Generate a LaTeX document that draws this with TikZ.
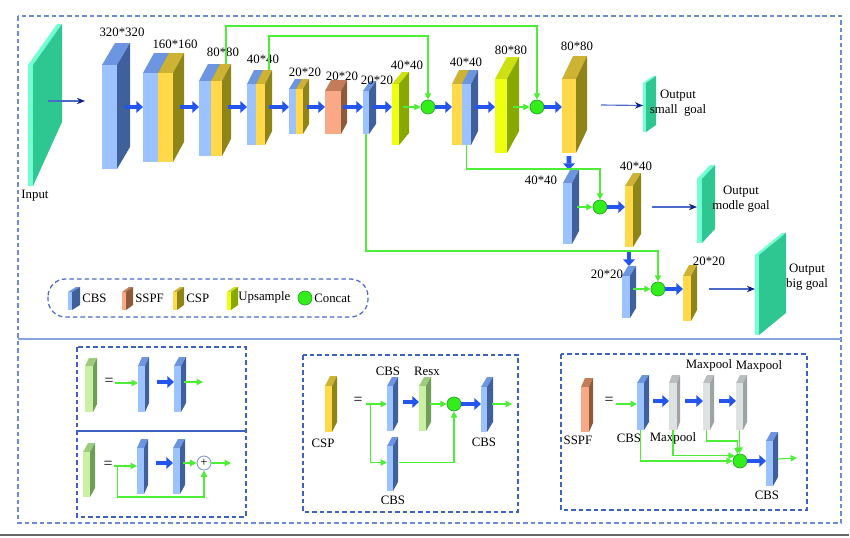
\documentclass[tikz,border=0pt]{standalone}
\usepackage{fontspec}
\setmainfont{Liberation Serif}
\usetikzlibrary{arrows.meta,calc}

\definecolor{cbsF}{HTML}{9CC2FF}
\definecolor{cbsT}{HTML}{6C96E2}
\definecolor{cbsS}{HTML}{40609C}
\definecolor{cspF}{HTML}{FFD94A}
\definecolor{cspT}{HTML}{CDB233}
\definecolor{cspS}{HTML}{8E8418}
\definecolor{sspfF}{HTML}{F9A985}
\definecolor{sspfT}{HTML}{C27D58}
\definecolor{sspfS}{HTML}{8C5B3C}
\definecolor{upsF}{HTML}{EEFF10}
\definecolor{upsT}{HTML}{CCE012}
\definecolor{upsS}{HTML}{88A800}
\definecolor{resF}{HTML}{C9F0A3}
\definecolor{resT}{HTML}{9CCC7C}
\definecolor{resS}{HTML}{6E9E58}
\definecolor{poolF}{HTML}{DDE1E1}
\definecolor{poolT}{HTML}{BABEBE}
\definecolor{poolS}{HTML}{9DA2A2}
\definecolor{outF}{HTML}{72FFD2}
\definecolor{outS}{HTML}{2FC791}
\definecolor{arrblue}{HTML}{2456EE}
\definecolor{lgreen}{HTML}{4CEE36}
\definecolor{catF}{HTML}{33EE1A}
\definecolor{catD}{HTML}{24A824}
\definecolor{navy}{HTML}{0E1E8C}
\definecolor{navyln}{HTML}{4A6AC8}
\definecolor{boxln}{HTML}{6C8CD8}
\definecolor{inboxln}{HTML}{3D62C2}

\tikzset{
	cbs top/.style={fill=cbsT}, cbs side/.style={fill=cbsS}, cbs front/.style={fill=cbsF},
	csp top/.style={fill=cspT}, csp side/.style={fill=cspS}, csp front/.style={fill=cspF},
	sspf top/.style={fill=sspfT}, sspf side/.style={fill=sspfS}, sspf front/.style={fill=sspfF},
	ups top/.style={fill=upsT}, ups side/.style={fill=upsS}, ups front/.style={fill=upsF},
	res top/.style={fill=resT}, res side/.style={fill=resS}, res front/.style={fill=resF},
	pool top/.style={fill=poolT}, pool side/.style={fill=poolS}, pool front/.style={fill=poolF},
	out top/.style={fill=outF}, out side/.style={fill=outS}, out front/.style={fill=outF},
	blockface/.style={rectangle, inner sep=0pt, outer sep=0pt, anchor=north west},
	lbl/.style={inner sep=0pt},
	fatarrow/.style={draw=arrblue, line width=2.6pt, -{Triangle[length=3.8pt,width=6.6pt]}},
	gline/.style={draw=lgreen, line width=0.65pt},
	garrow/.style={gline, -{Triangle[length=3.6pt,width=3.6pt]}},
	narrow/.style={draw=navyln, line width=0.65pt, -{Stealth[length=4.6pt,width=3.6pt,color=navy]}},
	concat/.style={circle, fill=catF, draw=catD, line width=0.4pt, minimum size=0.28cm, inner sep=0pt},
	plus/.style={circle, fill=white, draw=cbsF!80!black, line width=0.5pt, minimum size=0.28cm, inner sep=0pt},
	dbox/.style={draw=boxln, line width=0.75pt, dash pattern=on 2.6pt off 1.7pt},
	ibox/.style={draw=inboxln, line width=0.7pt, dash pattern=on 2.6pt off 1.7pt},
}

% объемный блок: имя, x, y, ширина, высота, dx, dy, вид
\newcommand{\blk}[8]{%
	\fill[#8 top] (#2,#3) -- ++(#6,-#7) -- ++(#4,0) -- ++(-#6,#7) -- cycle;
	\fill[#8 side] (#2+#4,#3) -- ++(#6,-#7) -- ++(0,#5) -- ++(-#6,#7) -- cycle;
	\node[#8 front, blockface, minimum width=#4*0.02cm, minimum height=#5*0.02cm] (#1) at (#2,#3) {};
}

\begin{document}
\begin{tikzpicture}[x=0.02cm, y=-0.02cm, font=\fontsize{7.3}{8.4}\selectfont]
	\useasboundingbox (0,0) rectangle (850,538);

	% рамки
	\draw[dbox] (18,16) rectangle (841,523);
	\draw[boxln!80, line width=0.7pt] (18,339) -- (841,339);
	\draw[black!60, line width=1.3pt] (0,535) -- (849,535);
	\coordinate (r) at (0,107);

	% вход
	\fill[outF] (28,65) -- (57,24) -- (62,24) -- (33,65) -- (33,186) -- (28,186) -- cycle;
	\fill[outS] (33,65) -- (62,24) -- (62,122) -- (33,186) -- cycle;
	\node[lbl] (tin) at (35,196) {Input};
	\coordinate (i1) at (48,101);
	\coordinate (i2) at (85,101);
	\draw[narrow] (i1) -- (i2);

	% основная ветвь
	\blk{b1}{102}{65}{15}{104}{13}{22}{cbs}
	\blk{b2a}{143}{73}{15}{89}{11}{20}{cbs}
	\blk{b2b}{158}{73}{15}{89}{11}{20}{csp}
	\blk{b3a}{199}{81}{12}{75}{9}{17}{cbs}
	\blk{b3b}{211}{81}{11}{75}{9}{17}{csp}
	\blk{b4a}{247}{84}{9}{61}{7}{14}{cbs}
	\blk{b4b}{256}{84}{9}{61}{7}{14}{csp}
	\blk{b5a}{289}{89}{7}{45}{6}{10}{cbs}
	\blk{b5b}{296}{89}{7}{45}{6}{10}{csp}
	\blk{b6}{325}{91}{16}{43}{6}{11}{sspf}
	\blk{b7}{363}{91}{6}{43}{7}{10}{cbs}
	\blk{b8}{392}{84}{7}{61}{10}{12}{ups}
	\node[concat] (c1) at (428,107) {};
	\blk{b9a}{452}{84}{10}{61}{7}{14}{csp}
	\blk{b9b}{462}{84}{9}{61}{7}{14}{cbs}
	\blk{b10}{495}{79}{12}{74}{12}{22}{ups}
	\node[concat] (c2) at (537,107) {};
	\blk{b11}{562}{79}{14}{74}{11}{23}{csp}

	\node[lbl] (l1) at (122,32) {320*320};
	\node[lbl] (l2) at (175,44) {160*160};
	\node[lbl] (l3) at (223,52) {80*80};
	\node[lbl] (l4) at (263,59) {40*40};
	\node[lbl] (l5) at (305,72) {20*20};
	\node[lbl] (l6) at (342,76) {20*20};
	\node[lbl] (l7) at (377,80) {20*20};
	\node[lbl] (l8) at (407,65) {40*40};
	\node[lbl] (l9) at (466,62) {40*40};
	\node[lbl] (l10) at (511,50) {80*80};
	\node[lbl] (l11) at (577,46) {80*80};

	\draw[fatarrow] ($(b1.east |- r)+(8,0)$) -- (b2a.west |- r);
	\draw[fatarrow] ($(b2b.east |- r)+(7,0)$) -- (b3a.west |- r);
	\draw[fatarrow] ($(b3b.east |- r)+(6,0)$) -- (b4a.west |- r);
	\draw[fatarrow] ($(b4b.east |- r)+(4,0)$) -- (b5a.west |- r);
	\draw[fatarrow] ($(b5b.east |- r)+(4,0)$) -- (b6.west |- r);
	\draw[fatarrow] ($(b6.east |- r)+(2,0)$) -- (b7.west |- r);
	\draw[fatarrow] ($(b7.east |- r)+(4,0)$) -- (b8.west |- r);
	\draw[garrow] ($(b8.east |- r)+(4,0)$) -- (c1);
	\draw[fatarrow] (c1) -- (b9a.west |- r);
	\draw[fatarrow] ($(b9b.east |- r)+(4,0)$) -- (b10.west |- r);
	\draw[garrow] ($(b10.east |- r)+(6,0)$) -- (c2);
	\draw[fatarrow] (c2) -- (b11.west |- r);

	% боковые ветви
	\blk{b12}{563}{183}{9}{61}{7}{13}{cbs}
	\node[concat] (c3) at (600,207) {};
	\blk{b13}{625}{186}{8}{61}{8}{13}{csp}
	\blk{b14}{622}{276}{8}{42}{6}{10}{cbs}
	\node[concat] (c4) at (658,289) {};
	\blk{b15}{683}{276}{8}{45}{6}{11}{csp}

	\node[lbl] (l12) at (541,180) {40*40};
	\node[lbl] (l13) at (636,166) {40*40};
	\node[lbl] (l14) at (607,274) {20*20};
	\node[lbl] (l15) at (709,261) {20*20};

	\draw[fatarrow] ($(b11.south)+(0,3)$) -- ($(b12.north)+(1.5,-13)$);
	\draw[garrow] ($(b12.east |- c3)+(5,0)$) -- (c3);
	\draw[fatarrow] (c3) -- (b13.west |- c3);
	\draw[fatarrow] ($(b13.south)+(0,4)$) -- ($(b14.north)+(3,-10)$);
	\draw[garrow] ($(b14.east |- c4)+(3,0)$) -- (c4);
	\draw[fatarrow] (c4) -- (b15.west |- c4);

	\coordinate (sA) at (226,64);
	\coordinate (sB) at (269,70);
	\draw[garrow] (sA) -- ++(0,-38) -| (c2);
	\draw[garrow] (sB) -- ++(0,-34) -| (c1);
	\draw[garrow] (b9b.south) -- ++(0,24) -| (c3);
	\draw[garrow] (b7.south) -- ++(0,117) -| (c4);

	% выходы
	\blk{os}{643}{83}{3}{49}{10}{7}{out}
	\blk{om}{697}{179}{5}{64}{13}{14}{out}
	\blk{ob}{755}{255}{4}{80}{27}{22}{out}
	\node[lbl, align=center] (t1) at (678,103) {Output\\small\ \ goal};
	\node[lbl, align=center] (t2) at (741,199) {Output\\modle goal};
	\node[lbl, align=center] (t3) at (807,277) {Output\\big goal};
	\draw[narrow] ($(b11.east)+(25,-11)$) -- ($(os.west)+(0,-2)$);
	\draw[narrow] ($(b13.east |- c3)+(19,0)$) -- (om.west |- c3);
	\draw[narrow] ($(b15.east |- c4)+(18,0)$) -- (ob.west |- c4);

	% легенда
	\draw[ibox, draw=navyln, rounded corners=10pt] (48,279) rectangle (368,317);
	\blk{g1}{68}{292}{4}{18}{8}{5}{cbs}
	\blk{g2}{122}{292}{4}{18}{7}{5}{sspf}
	\blk{g3}{173}{292}{4}{18}{7}{5}{csp}
	\blk{g4}{227}{292}{4}{18}{7}{5}{ups}
	\node[concat] (g5) at (305,298) {};
	\node[lbl, anchor=west] (tg1) at (82,298) {CBS};
	\node[lbl, anchor=west] (tg2) at (135,298) {SSPF};
	\node[lbl, anchor=west] (tg3) at (186,298) {CSP};
	\node[lbl, anchor=west] (tg4) at (238,297) {Upsample};
	\node[lbl, anchor=west] (tg5) at (314,298) {Concat};

	% блок Resx
	\draw[ibox] (77,347) rectangle (246,517);
	\draw[inboxln, line width=0.7pt] (77,431) -- (246,431);
	\blk{r1}{85}{366}{8}{46}{4}{8}{res}
	\node[lbl, font=\fontsize{9}{9}\selectfont] (eq1) at (109,382) {=};
	\blk{q1}{138}{366}{7}{46}{4}{9}{cbs}
	\blk{q2}{174}{366}{7}{46}{5}{9}{cbs}
	\coordinate (o1) at (203,382);
	\draw[garrow] ($(eq1.east)+(1,1)$) -- ($(q1.west |- eq1)+(0,1)$);
	\draw[fatarrow] ($(q1.east |- eq1)+(12,0)$) -- (q2.west |- eq1);
	\draw[garrow] ($(q2.east |- eq1)+(3,0)$) -- (o1);

	\blk{r2}{83}{452}{7}{45}{5}{9}{res}
	\node[lbl, font=\fontsize{9}{9}\selectfont] (eq2) at (108,465) {=};
	\blk{q3}{137}{448}{7}{46}{4}{9}{cbs}
	\blk{q4}{173}{448}{7}{46}{5}{9}{cbs}
	\node[plus] (p1) at (204,463) {+};
	\coordinate (o2) at (231,463);
	\draw[garrow] ($(eq2.east |- p1)+(1,3)$) -- ($(q3.west |- p1)+(0,3)$);
	\draw[fatarrow] ($(q3.east |- p1)+(12,0)$) -- (q4.west |- p1);
	\draw[garrow] ($(q4.east |- p1)+(3,0)$) -- (p1);
	\draw[garrow] (p1) -- (o2);
	\draw[garrow] ($(eq2.east |- p1)+(5,3)$) -- ++(0,31) -| (p1);

	% блок CSP
	\draw[ibox] (303,355) rectangle (518,512);
	\blk{k0}{325}{386}{7}{46}{5}{10}{csp}
	\node[lbl] (tk0) at (323,443) {CSP};
	\node[lbl, font=\fontsize{9}{9}\selectfont] (eq3) at (358,401) {=};
	\blk{k1}{387}{386}{6}{45}{5}{9}{cbs}
	\blk{k2}{387}{446}{6}{45}{5}{9}{cbs}
	\blk{k3}{419}{386}{7}{45}{5}{9}{res}
	\node[concat] (c5) at (454,404) {};
	\blk{k4}{481}{387}{6}{45}{6}{10}{cbs}
	\coordinate (o3) at (512,404);
	\node[lbl] (tk1) at (388,371) {CBS};
	\node[lbl] (tk2) at (393,500) {CBS};
	\node[lbl] (tk3) at (427,371) {Resx};
	\node[lbl] (tk4) at (484,442) {CBS};
	\draw[garrow] ($(eq3.east |- c5)+(3,0)$) -- (k1.west |- c5);
	\draw[garrow] ($(eq3.east |- c5)+(8,0)$) |- ($(k2.west)+(0,-6)$);
	\draw[fatarrow] ($(k1.east |- c5)+(10,-2)$) -- ($(k3.west |- c5)+(0,-2)$);
	\draw[garrow] ($(k3.east |- c5)+(4,0)$) -- (c5);
	\draw[garrow] ($(k2.east)+(6,-6)$) -| (c5);
	\draw[fatarrow] (c5) -- (k4.west |- c5);
	\draw[garrow] ($(k4.east |- c5)+(5,0)$) -- (o3);

	% блок SSPF
	\draw[ibox] (561,354) rectangle (807,510);
	\blk{m0}{581}{387}{8}{45}{4}{9}{sspf}
	\node[lbl] (tm0) at (578,440) {SSPF};
	\node[lbl, font=\fontsize{9}{9}\selectfont] (eq4) at (609,401) {=};
	\blk{m1}{637}{383}{7}{47}{5}{8}{cbs}
	\blk{m2}{669}{383}{8}{47}{3}{8}{pool}
	\blk{m3}{703}{383}{7}{47}{4}{8}{pool}
	\blk{m4}{736}{383}{7}{47}{4}{8}{pool}
	\node[concat] (c6) at (740,461) {};
	\blk{m5}{766}{441}{7}{45}{5}{9}{cbs}
	\coordinate (o4) at (797,458);
	\node[lbl] (tm1) at (629,438) {CBS};
	\node[lbl] (tm2) at (673,438) {Maxpool};
	\node[lbl] (tm3) at (709,365) {Maxpool};
	\node[lbl] (tm4) at (759,366) {Maxpool};
	\node[lbl] (tm5) at (767,495) {CBS};
	\draw[garrow] ($(eq4.east)+(2,3)$) -- ($(m1.west |- eq4)+(0,3)$);
	\draw[fatarrow] ($(m1.east |- eq4)+(9,0)$) -- (m2.west |- eq4);
	\draw[fatarrow] ($(m2.east |- eq4)+(8,0)$) -- (m3.west |- eq4);
	\draw[fatarrow] ($(m3.east |- eq4)+(9,0)$) -- (m4.west |- eq4);
	\draw[garrow] (m1.south) |- (c6);
	\draw[garrow] (m2.south) |- (c6.north west);
	\draw[garrow] (m3.south) -- ++(0,11) -| (c6.110);
	\draw[garrow] (m4.south) -- (m4.south |- c6.north);
	\draw[fatarrow] (c6) -- (m5.west |- c6);
	\draw[garrow] ($(m5.east |- c6)+(5,-2)$) -- (o4);
\end{tikzpicture}
\end{document}
